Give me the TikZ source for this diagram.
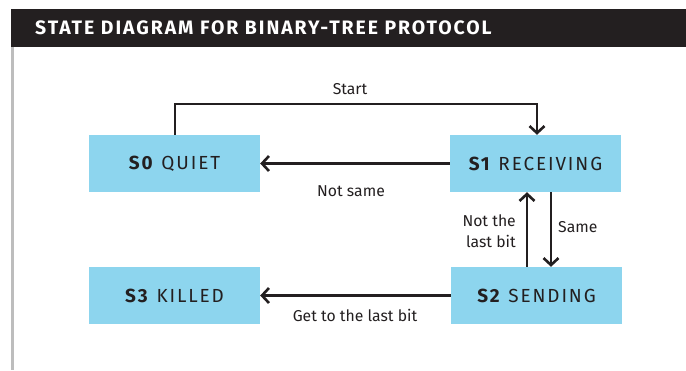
\documentclass[tikz,border=0pt]{standalone}
\usepackage{fontspec}
\setmainfont{Fira Sans}
\usetikzlibrary{arrows.meta,calc}
\definecolor{ink}{HTML}{231F20}
\definecolor{boxblue}{HTML}{8DD5EE}
\definecolor{rulegrey}{HTML}{BDBDBD}
\tikzset{
  statebox/.style={rectangle, fill=boxblue, minimum width=171bp, minimum height=57bp, inner sep=0pt, text=ink, font=\fontsize{19}{22}\selectfont\addfontfeatures{LetterSpace=10}},
  conn/.style={draw=ink, line width=2.6bp, -{Straight Barb[length=7bp,width=15bp]}},
  lbl/.style={text=ink, inner sep=0pt, font=\fontsize{15.8}{21}\selectfont},
}
\begin{document}
\begin{tikzpicture}[x=1bp,y=-1bp]
\useasboundingbox (0,0) rectangle (686,370);
% title bar
\fill[ink] (11,9) rectangle (686,47);
\node[anchor=base west, inner sep=0pt, text=white, font=\fontsize{19.5}{22}\selectfont\bfseries\addfontfeatures{LetterSpace=10}] (title) at (35,34) {STATE DIAGRAM FOR BINARY-TREE PROTOCOL};
\fill[rulegrey] (11,47) rectangle (13.5,370);
% states
\node[statebox] (S0) at (174.5,163.5) {\textbf{S0} QUIET};
\node[statebox] (S1) at (535.5,163.5) {\textbf{S1} RECEIVING};
\node[statebox] (S2) at (536.5,295.5) {\textbf{S2} SENDING};
\node[statebox] (S3) at (174.5,295.5) {\textbf{S3} KILLED};
% connectors
\draw[conn] ([xshift=0.5bp]S0.north) -- ++(0,-31) coordinate (tl) -| ([xshift=1.5bp]S1.north);
\node[lbl] (start) at (350,89) {Start};
\draw[conn] (S1.west) -- (S0.east);
\node[lbl] (notsame) at (351,191) {Not same};
\draw[conn] ([xshift=-9.5bp]S2.north) -- ([xshift=-9.5bp]S2.north |- S1.south);
\draw[conn] ([xshift=15.5bp]S1.south) -- ([xshift=15.5bp]S1.south |- S2.north);
\node[lbl, anchor=east, align=right] (notlast) at (516,231) {Not the\\last bit};
\node[lbl, anchor=west] (same) at (558,227) {Same};
\draw[conn] (S2.west) -- (S3.east);
\node[lbl] (getlast) at (355,315) {Get to the last bit};
\end{tikzpicture}
\end{document}
